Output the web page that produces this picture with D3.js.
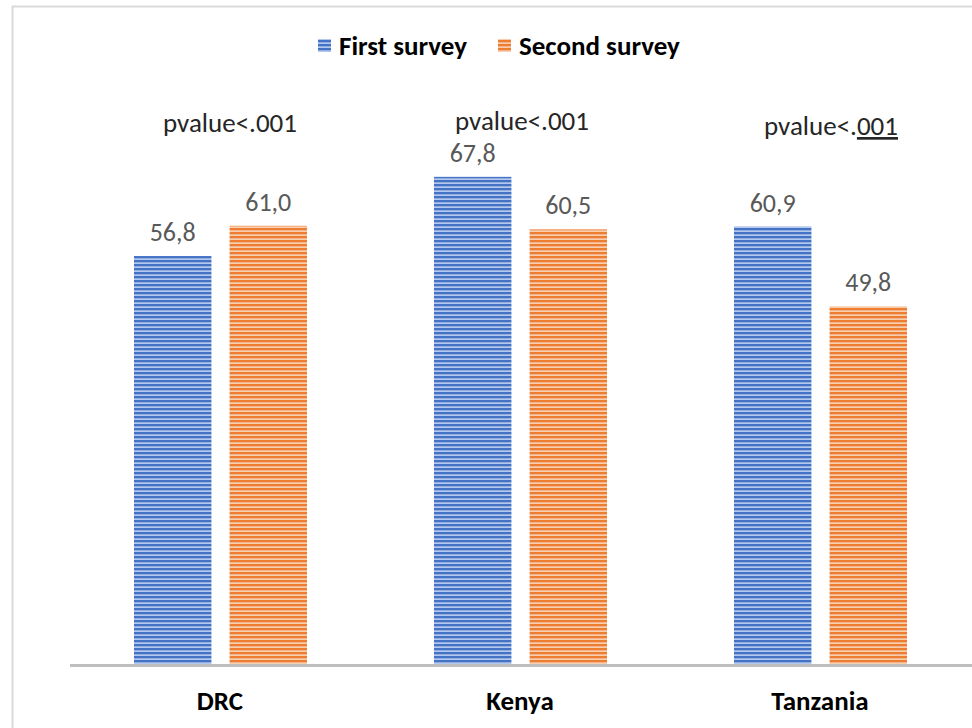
<!DOCTYPE html>
<html><head><meta charset="utf-8">
<script src="https://cdn.jsdelivr.net/npm/d3@7"></script>
<style>body{margin:0;background:#fff}svg{display:block}</style>
</head><body>
<svg id="c" width="972" height="728"></svg>
<script>
const categories = ["DRC", "Kenya", "Tanzania"];
const seriesNames = ["First survey", "Second survey"];
const firstSurvey = [56.8, 67.8, 60.9];
const secondSurvey = [61.0, 60.5, 49.8];
const pvalueLabels = ["pvalue<.001", "pvalue<.001", "pvalue<.001"];
const colors = ["#4472c4", "#ed7d31"];
const lightColors = ["#b4c7ec", "#f9cdb0"];

const svg = d3.select("#c");
const font = "Carlito, Calibri, Lato, 'Open Sans', sans-serif";

// border
svg.append("rect").attr("x", 12.5).attr("y", 6.5).attr("width", 980).attr("height", 740)
  .attr("fill", "none").attr("stroke", "#d9d9d9").attr("stroke-width", 2);

// patterns
const defs = svg.append("defs");
colors.forEach((c, i) => {
  const p = defs.append("pattern").attr("id", "pat" + i).attr("patternUnits", "userSpaceOnUse")
    .attr("width", 8).attr("height", 4);
  p.append("rect").attr("width", 8).attr("height", 4).attr("fill", lightColors[i]);
  p.append("rect").attr("y", 0).attr("width", 8).attr("height", 2.3).attr("fill", c);
});

const x0 = d3.scaleBand().domain(categories).range([71, 971]).paddingInner(0).paddingOuter(0);
const x1 = d3.scaleBand().domain(seriesNames).range([63, 236]).paddingInner(0.19);
const y = d3.scaleLinear().domain([0, 80]).range([665, 89]);

const data = categories.map((c, i) => ({cat: c, vals: [firstSurvey[i], secondSurvey[i]]}));

const g = svg.append("g");
const groups = g.selectAll("g.cat").data(data).join("g")
  .attr("transform", d => `translate(${x0(d.cat)},0)`);

groups.selectAll("rect").data(d => d.vals.map((v, j) => ({v, j})))
  .join("rect")
  .attr("x", d => x1(seriesNames[d.j]))
  .attr("width", x1.bandwidth())
  .attr("y", d => y(d.v))
  .attr("height", d => y(0) - y(d.v))
  .attr("fill", d => `url(#pat${d.j})`);

groups.selectAll("text.val").data(d => d.vals.map((v, j) => ({v, j})))
  .join("text").attr("class", "val")
  .attr("x", d => x1(seriesNames[d.j]) + x1.bandwidth() / 2)
  .attr("y", d => y(d.v) - 15)
  .attr("text-anchor", "middle")
  .attr("font-family", font).attr("font-size", 26).attr("fill", "#595959")
  .text(d => d.v.toFixed(1).replace(".", ","));

// axis
svg.append("line").attr("x1", 70).attr("x2", 972).attr("y1", y(0) + 0.5).attr("y2", y(0) + 0.5)
  .attr("stroke", "#bfbfbf").attr("stroke-width", 3);

// category labels
svg.selectAll("text.cat").data(categories).join("text").attr("class", "cat")
  .attr("x", d => x0(d) + x0.bandwidth() / 2 - 1)
  .attr("y", 710).attr("text-anchor", "middle")
  .attr("font-family", font).attr("font-size", 27).attr("font-weight", "bold").attr("fill", "#000")
  .text(d => d);

// pvalue labels
const pPos = [[230, 132], [522, 130], [831, 135]];
pvalueLabels.forEach((t, i) => {
  const txt = svg.append("text").attr("x", pPos[i][0]).attr("y", pPos[i][1])
    .attr("text-anchor", "middle").attr("font-family", font).attr("font-size", 27).attr("fill", "#262626");
  if (i === 2) {
    txt.append("tspan").text(t.slice(0, 8));
    txt.append("tspan").attr("text-decoration", "underline").text(t.slice(8));
  } else txt.text(t);
});

// legend
const legX = [318, 498];
seriesNames.forEach((s, i) => {
  svg.append("rect").attr("x", legX[i]).attr("y", 39).attr("width", 13).attr("height", 13)
    .attr("fill", `url(#pat${i})`);
  svg.append("text").attr("x", legX[i] + 21).attr("y", 55)
    .attr("font-family", font).attr("font-size", 27).attr("font-weight", "bold").attr("fill", "#000")
    .text(s);
});
</script>
</body></html>
